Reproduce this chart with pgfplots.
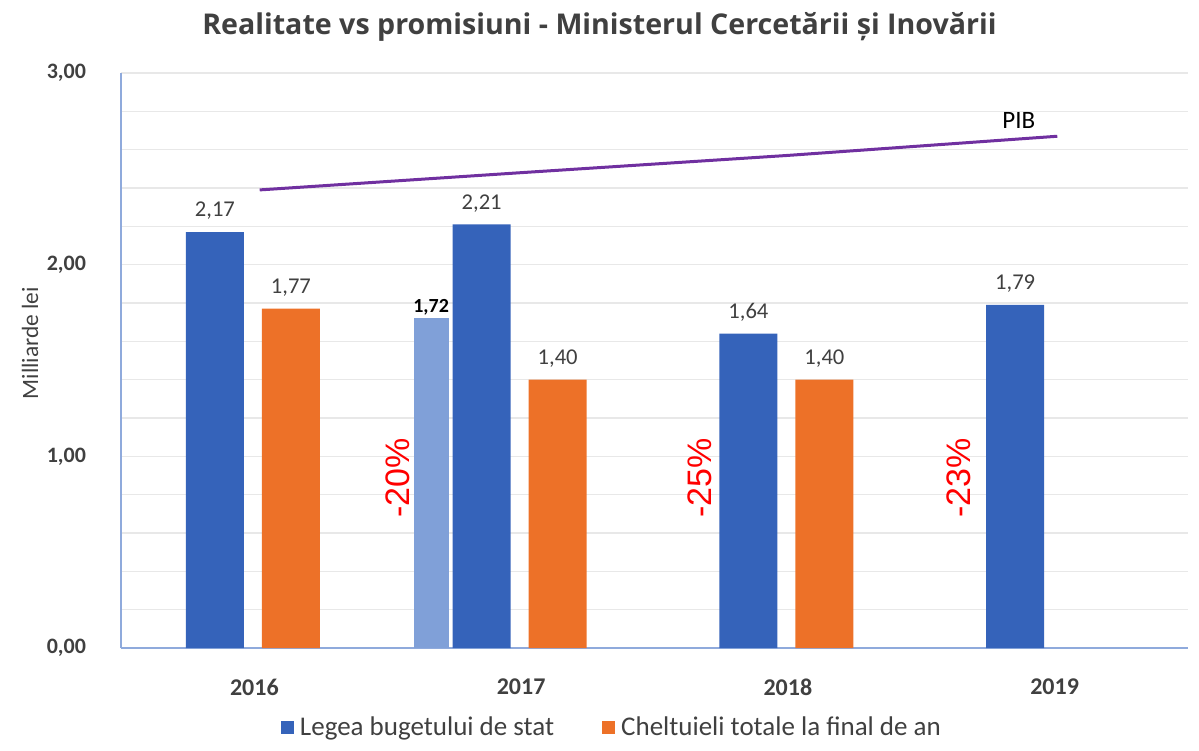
\documentclass[border=0pt]{standalone}
\usepackage{fontspec}
\setmainfont{Carlito}
\newfontfamily\titlefont{Open Sans}
\newfontfamily\redfont{Liberation Sans}
\usepackage{pgfplots}
\pgfplotsset{compat=1.18}
\definecolor{cblue}{HTML}{3563BA}
\definecolor{corange}{HTML}{ED7128}
\definecolor{clight}{HTML}{80A0D8}
\definecolor{cpurple}{HTML}{7030A0}
\definecolor{ctext}{HTML}{404040}
\definecolor{caxis}{HTML}{8FAADC}
\definecolor{cgrid}{HTML}{E8E8E8}
\begin{document}
\begin{tikzpicture}
\useasboundingbox (0,0) rectangle (599.5pt,375pt);
\node[font=\titlefont\bfseries\fontsize{14.3}{16}\selectfont, text=ctext] at (299.75pt,361.5pt) {Realitate vs promisiuni - Ministerul Cercetării și Inovării};
\begin{axis}[
  at={(60.5pt,51pt)}, anchor=south west,
  scale only axis, width=533.5pt, height=287.5pt,
  xmin=-0.5, xmax=3.5, ymin=0, ymax=3,
  axis x line=bottom, axis y line=left,
  axis line style={caxis, line width=0.8pt, -},
  xtick={0,1,2,3}, xticklabels={2016,2017,2018,2019},
  ytick={0,1,2,3},
  minor ytick={0.2,0.4,0.6,0.8,1.2,1.4,1.6,1.8,2.2,2.4,2.6,2.8},
  ymajorgrids, yminorgrids,
  major grid style={cgrid, line width=0.6pt},
  minor grid style={cgrid, line width=0.6pt},
  major tick length=0pt, minor tick length=0pt,
  /pgf/number format/.cd, fixed, fixed zerofill, precision=2, use comma, assume math mode=true,
  /pgfplots/.cd,
  xticklabel style={font=\bfseries\fontsize{12}{14}\selectfont, text=ctext, anchor=center, yshift=-19.5pt},
  yticklabel style={font=\bfseries\fontsize{11}{13}\selectfont, text=ctext, anchor=east, xshift=-14pt},
  ylabel={Milliarde lei},
  every axis y label/.style={at={(axis description cs:-0.0853,0.53)}, rotate=90, anchor=center, font=\fontsize{11.7}{14}\selectfont, text=ctext},
  legend style={at={(0.462,-0.139)}, anchor=center, draw=none, fill=none, legend columns=2,
    font=\fontsize{13.5}{16}\selectfont, text=ctext,
    nodes={inner xsep=3pt},
    /tikz/every even column/.append style={column sep=21pt}},
  legend image code/.code={\draw[#1, draw=none] (0pt,-3.25pt) rectangle (6.5pt,3.25pt);},
]
\addplot[ybar, bar width=0.217, bar shift=-0.148, fill=cblue, draw=none,
  nodes near coords, nodes near coords style={font=\fontsize{11.3}{13}\selectfont, text=ctext, anchor=center, xshift=-19.74pt, yshift=10.5pt}]
  coordinates {(0,2.17) (1,2.21) (2,1.64) (3,1.79)};
\addlegendentry{Legea bugetului de stat}
\addplot[ybar, bar width=0.217, bar shift=0.137, fill=corange, draw=none,
  nodes near coords, nodes near coords style={font=\fontsize{11.3}{13}\selectfont, text=ctext, anchor=center, xshift=18.27pt, yshift=10.5pt}]
  coordinates {(0,1.77) (1,1.40) (2,1.40)};
\addlegendentry{Cheltuieli totale la final de an}
\addplot[ybar, bar width=0.131, bar shift=-0.335, fill=clight, draw=none, forget plot,
  nodes near coords, nodes near coords style={font=\bfseries\fontsize{10}{12}\selectfont, text=black, anchor=center, xshift=-45pt, yshift=5.5pt}]
  coordinates {(1,1.72)};
\addplot[cpurple, line width=1.5pt, forget plot] coordinates {(0.02,2.39) (1,2.48) (2,2.57) (3.01,2.67)};
\node[rotate=90, font=\redfont\fontsize{17}{20}\selectfont, text=red] at (axis cs:0.539,0.887) {-20\%};
\node[rotate=90, font=\redfont\fontsize{17}{20}\selectfont, text=red] at (axis cs:1.669,0.887) {-25\%};
\node[rotate=90, font=\redfont\fontsize{17}{20}\selectfont, text=red] at (axis cs:2.641,0.887) {-23\%};
\node[font=\fontsize{12.5}{15}\selectfont, text=black] at (axis cs:2.866,2.754) {PIB};
\end{axis}
\end{tikzpicture}
\end{document}
